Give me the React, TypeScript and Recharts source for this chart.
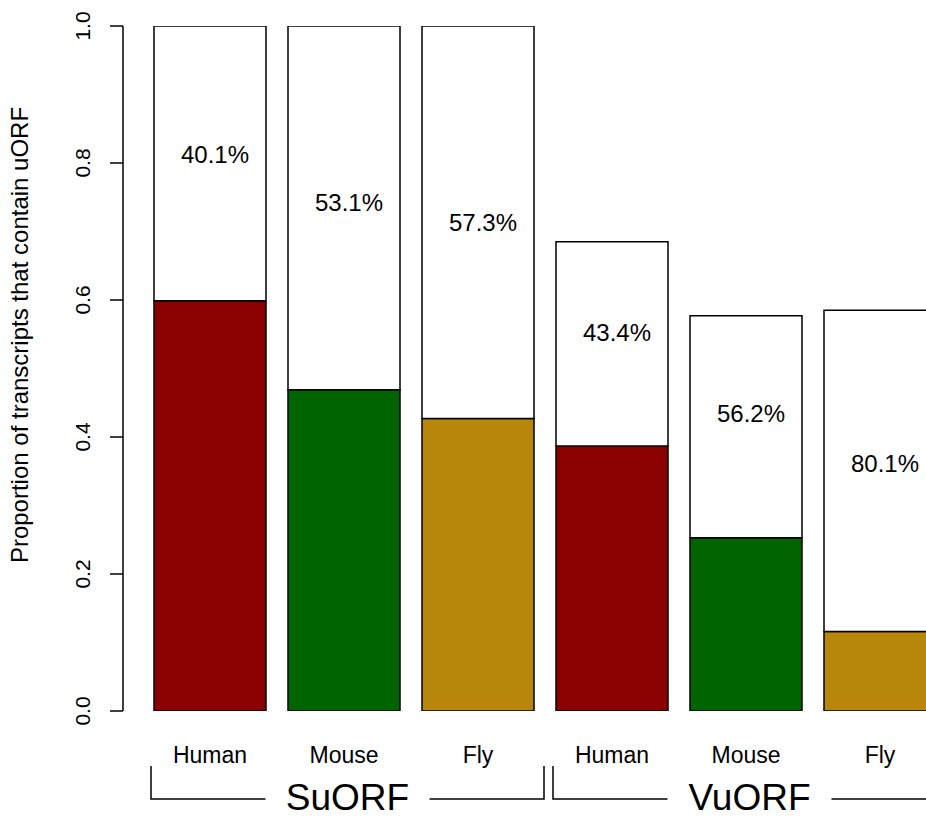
import { BarChart, Bar, XAxis, YAxis, Cell, LabelList } from 'recharts'

const species = ['Human', 'Mouse', 'Fly', 'Human', 'Mouse', 'Fly']
const groups = ['SuORF', 'SuORF', 'SuORF', 'VuORF', 'VuORF', 'VuORF']
const withUorf = [0.599, 0.469, 0.427, 0.387, 0.253, 0.116]
const totals = [1.0, 1.0, 1.0, 0.685, 0.577, 0.585]
const pctLabels = ['40.1%', '53.1%', '57.3%', '43.4%', '56.2%', '80.1%']
const pctLabelAt = [0.812, 0.742, 0.714, 0.553, 0.435, 0.362]
const yTicks = [0, 0.2, 0.4, 0.6, 0.8, 1.0]
const fills = ['#8B0000', '#006400', '#B8860B', '#8B0000', '#006400', '#B8860B']

const data = species.map((s, i) => ({
  species: s,
  group: groups[i],
  uorf: withUorf[i],
  rest: totals[i] - withUorf[i],
}))

const FONT = '"Liberation Sans", Arial, Helvetica, sans-serif'
const BAND = 134

const YTick = ({ y, payload }: any) => (
  <text
    x={90}
    y={y}
    transform={`rotate(-90, 90, ${y})`}
    textAnchor="middle"
    fontSize={21}
    fontFamily={FONT}
    fill="#000"
  >
    {payload.value.toFixed(1)}
  </text>
)

const XTick = ({ x, y, payload, index }: any) => {
  const i = payload.index ?? index
  const isMiddle = i % 3 === 1
  const left = x - BAND - 59
  const right = x + BAND + 66
  const mid = (left + right) / 2
  const by = y + 88
  return (
    <g>
      <text x={x} y={y + 52} textAnchor="middle" fontSize={23} fontFamily={FONT} fill="#000">
        {payload.value}
      </text>
      {isMiddle && (
        <g stroke="#000" strokeWidth={1.5} fill="none">
          <polyline points={`${left},${by - 33} ${left},${by} ${mid - 82},${by}`} />
          <polyline points={`${mid + 82},${by} ${right},${by} ${right},${by - 33}`} />
        </g>
      )}
      {isMiddle && (
        <text x={mid} y={y + 99} textAnchor="middle" fontSize={37} fontFamily={FONT} fill="#000">
          {groups[i]}
        </text>
      )}
    </g>
  )
}

const PctLabel = ({ x, y, width, height, index }: any) => {
  const top = totals[index]
  const bottom = withUorf[index]
  const cy = y + (height * (top - pctLabelAt[index])) / (top - bottom)
  return (
    <text x={x + width / 2 + 5} y={cy + 8.6} textAnchor="middle" fontSize={24} fontFamily={FONT} fill="#000">
      {pctLabels[index]}
    </text>
  )
}

const YLabel = () => (
  <text
    x={28}
    y={335}
    transform="rotate(-90, 28, 335)"
    textAnchor="middle"
    fontSize={24}
    fontFamily={FONT}
    fill="#000"
  >
    Proportion of transcripts that contain uORF
  </text>
)

export default function App() {
  return (
    <div style={{ position: 'absolute', left: 0, top: 0, width: 926, height: 818, overflow: 'hidden', background: '#fff' }}>
      <BarChart
        width={960}
        height={818}
        data={data}
        margin={{ top: 26, right: 13, left: 0, bottom: 0 }}
        barCategoryGap={11}
      >
        <XAxis
          dataKey="species"
          height={107}
          axisLine={false}
          tickLine={false}
          tickSize={0}
          tickMargin={0}
          padding={{ left: 20, right: 0 }}
          interval={0}
          tick={<XTick />}
        />
        <YAxis
          width={123}
          domain={[0, 1]}
          ticks={yTicks}
          type="number"
          allowDataOverflow
          tickSize={13}
          tickMargin={0}
          axisLine={{ stroke: '#000', strokeWidth: 1.5 }}
          tickLine={{ stroke: '#000', strokeWidth: 1.5 }}
          tick={<YTick />}
          label={<YLabel />}
        />
        <Bar dataKey="uorf" stackId="a" stroke="#000" strokeWidth={1.5} isAnimationActive={false}>
          {data.map((d, i) => (
            <Cell key={i} fill={fills[i]} />
          ))}
        </Bar>
        <Bar dataKey="rest" stackId="a" fill="#fff" stroke="#000" strokeWidth={1.5} isAnimationActive={false}>
          <LabelList dataKey="rest" content={<PctLabel />} />
        </Bar>
      </BarChart>
    </div>
  )
}
